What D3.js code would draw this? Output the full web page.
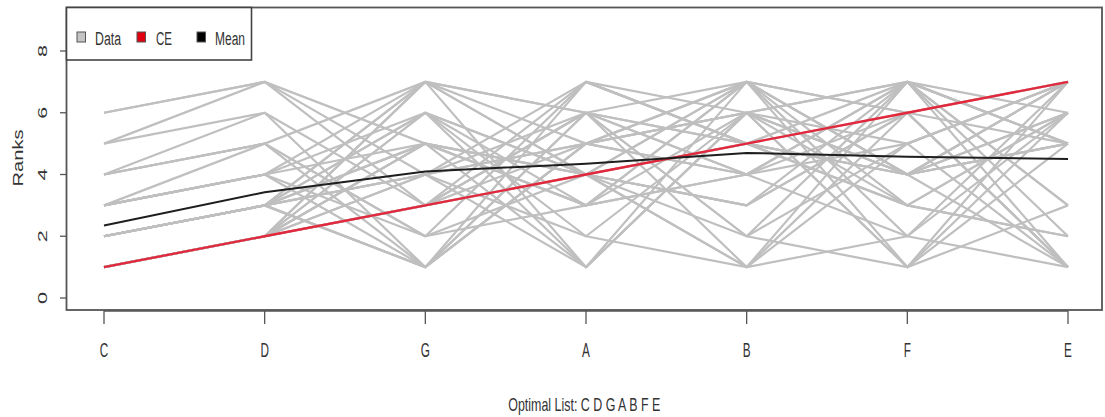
<!DOCTYPE html>
<html><head><meta charset="utf-8">
<script src="https://cdn.jsdelivr.net/npm/d3@7"></script>
<style>html,body{margin:0;padding:0;background:#fff;} svg{display:block;}</style>
</head><body>
<svg id="chart" width="1105" height="417"></svg>
<script>
// ---- data ----
const categories = ["C","D","G","A","B","F","E"];
const ceRanks = [1,2,3,4,5,6,7];
// each row: rank of C, D, G, A, B, F, E in one list
const dataRanks = [
  [1,2,3,5,4,7,6],[1,2,7,4,5,3,6],[1,2,3,6,5,4,7],[1,2,4,5,6,7,3],[1,2,6,3,4,5,7],
  [1,2,3,6,4,7,5],[1,2,4,7,5,3,6],[1,2,3,6,7,4,5],[1,2,5,3,6,4,7],[1,2,7,4,3,6,5],
  [1,2,5,3,7,4,6],[1,2,6,4,3,7,5],[1,2,5,4,3,6,7],[1,2,3,7,5,4,6],
  [2,3,1,6,4,7,5],[2,3,6,1,7,4,5],[2,3,5,4,1,6,7],[2,3,4,5,6,1,7],[2,3,7,5,4,6,1],
  [2,3,1,7,6,4,5],[2,3,4,6,1,7,5],[2,3,5,4,7,1,6],[2,3,1,5,6,4,7],[2,3,6,4,5,7,1],
  [2,3,4,1,6,5,7],[2,3,7,6,5,4,1],
  [3,4,6,2,1,5,7],[3,4,2,7,5,6,1],[3,4,1,5,7,2,6],[3,4,5,1,6,7,2],[3,4,7,6,2,1,5],
  [3,5,2,4,7,6,1],
  [4,5,7,1,6,3,2],[4,5,2,3,7,6,1],[4,5,1,6,2,7,3],[4,6,1,5,7,3,2],
  [5,6,3,4,1,2,7],[5,7,4,2,6,1,3],
  [6,7,3,4,2,5,1],[6,7,5,3,4,2,1]
];
const yTicks = [0,2,4,6,8];
const legendLabels = ["Data","CE","Mean"];
const xTitle = "Optimal List: C D G A B F E";
const yTitle = "Ranks";

// ---- layout ----
const font = "'Liberation Sans', Arial, sans-serif";
const textCol = "#333";
const svg = d3.select("#chart");
const x = d3.scalePoint().domain(categories).range([104, 1068]);
const y = d3.scaleLinear().domain([0, 8]).range([298, 51]);
const box = {l: 66.5, r: 1102, t: 7.5, b: 310};

const meanRanks = categories.map((c, i) => d3.mean(dataRanks, r => r[i]));
const line = d3.line().x((d, i) => x(categories[i])).y(d => y(d));

// gray data lines
svg.append("g").selectAll("path").data(dataRanks).join("path")
  .attr("d", line).attr("fill", "none")
  .attr("stroke", "#bfbfbf").attr("stroke-width", 2.2).attr("stroke-linejoin", "round");
// CE
svg.append("path").datum(ceRanks).attr("d", line).attr("fill", "none")
  .attr("stroke", "#e2283c").attr("stroke-width", 2.3);
// Mean
svg.append("path").datum(meanRanks).attr("d", line).attr("fill", "none")
  .attr("stroke", "#1e1e1e").attr("stroke-width", 2);

// box
svg.append("rect").attr("x", box.l).attr("y", box.t)
  .attr("width", box.r - box.l).attr("height", box.b - box.t)
  .attr("fill", "none").attr("stroke", "#555").attr("stroke-width", 1.8);

// x axis
const xAxis = svg.append("g");
xAxis.append("line").attr("x1", x(categories[0])).attr("x2", x(categories[categories.length-1]))
  .attr("y1", 311).attr("y2", 311).attr("stroke", "#555").attr("stroke-width", 1.5);
xAxis.selectAll("line.tick").data(categories).join("line").attr("class", "tick")
  .attr("x1", d => x(d)).attr("x2", d => x(d)).attr("y1", 311).attr("y2", 324)
  .attr("stroke", "#555").attr("stroke-width", 1.3);
xAxis.selectAll("text").data(categories).join("text")
  .attr("x", d => x(d)).attr("y", 357).attr("text-anchor", "middle")
  .attr("font-family", font).attr("font-size", 21).attr("fill", textCol)
  .text(d => d)
  .each(function() { const n = this.getComputedTextLength();
    d3.select(this).attr("textLength", n * 0.56).attr("lengthAdjust", "spacingAndGlyphs"); });

// y axis
const yAxis = svg.append("g");
yAxis.selectAll("line").data(yTicks).join("line")
  .attr("x1", 60).attr("x2", 66.5).attr("y1", d => y(d)).attr("y2", d => y(d))
  .attr("stroke", "#555").attr("stroke-width", 1.3);
yAxis.selectAll("text").data(yTicks).join("text")
  .attr("transform", d => `translate(47,${y(d)}) rotate(-90)`)
  .attr("text-anchor", "middle").attr("font-family", font).attr("font-size", 12)
  .attr("fill", textCol).attr("textLength", 12).attr("lengthAdjust", "spacingAndGlyphs")
  .text(d => d);

// titles
svg.append("text").attr("x", (box.l + box.r) / 2).attr("y", 411).attr("text-anchor", "middle")
  .attr("font-family", font).attr("font-size", 19).attr("fill", textCol)
  .attr("textLength", 152).attr("lengthAdjust", "spacingAndGlyphs").text(xTitle);
svg.append("text").attr("transform", `translate(23,158) rotate(-90)`).attr("text-anchor", "middle")
  .attr("font-family", font).attr("font-size", 14.5).attr("fill", textCol)
  .attr("textLength", 57).attr("lengthAdjust", "spacingAndGlyphs").text(yTitle);

// legend
const lg = svg.append("g");
lg.append("rect").attr("x", 66.5).attr("y", 7.5).attr("width", 185).attr("height", 52.5)
  .attr("fill", "#fff").attr("stroke", "#444").attr("stroke-width", 1.6);
const legendColors = ["#c4c4c4", "#e00010", "#000"];
const legendSwatchX = [77, 137, 197];
const legendTextX = [95, 156, 215];
const legendTextW = [26, 16, 30];
legendLabels.forEach((lab, i) => {
  lg.append("rect").attr("x", legendSwatchX[i]).attr("y", 32).attr("width", 8.5).attr("height", 10)
    .attr("fill", legendColors[i]).attr("stroke", "#555").attr("stroke-width", 1);
  lg.append("text").attr("x", legendTextX[i]).attr("y", 45).attr("font-family", font)
    .attr("font-size", 18).attr("fill", textCol)
    .attr("textLength", legendTextW[i]).attr("lengthAdjust", "spacingAndGlyphs").text(lab);
});
</script>
</body></html>
